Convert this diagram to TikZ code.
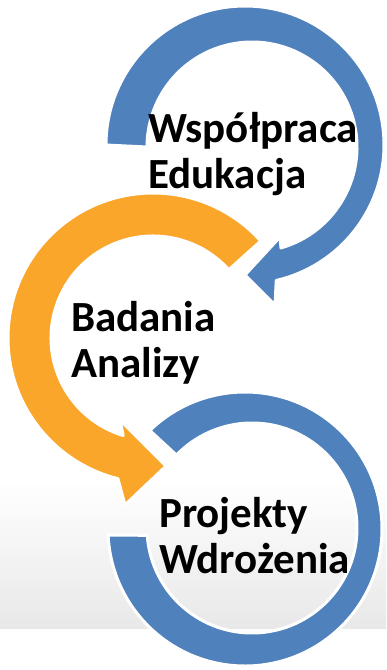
\documentclass[tikz,border=0pt]{standalone}
\usepackage{fontspec}
\setmainfont{Carlito}
\usetikzlibrary{positioning}
\definecolor{ringblue}{RGB}{79,129,189}
\definecolor{ringorange}{RGB}{249,166,43}

\begin{document}
\begin{tikzpicture}[x=1pt,y=-1pt,
    ringband/.style={draw=white,line width=3pt,line join=round},
    ringtext/.style={anchor=base west,inner sep=0pt,align=left,
      font=\fontsize{43}{45.5}\selectfont\bfseries}]
  \useasboundingbox (0,0) rectangle (386,670);
  \shade[top color=white,bottom color=black!9] (0,480) rectangle (386,628);
  % middle arrow
  \filldraw[ringband,fill=ringorange] ([shift={(153,338)}]318:145)
    arc[start angle=318,end angle=104,radius=145]
    -- (125,505) -- (166,466) -- (120,420)
    -- ([shift={(153,338)}]107:102)
    arc[start angle=107,end angle=318,radius=102] -- cycle;
  % bottom ring
  \filldraw[ringband,fill=ringblue] ([shift={(245,529)}]226:137)
    arc[start angle=226,end angle=537.5,radius=137]
    -- ([shift={(252,528)}]536:105)
    arc[start angle=536,end angle=224,radius=105] -- cycle;
  % top arrow
  \filldraw[ringband,fill=ringblue] ([shift={(245,145)}]180:139)
    arc[start angle=180,end angle=437,radius=139]
    -- (275,305) -- (245,275) -- (280,237)
    -- ([shift={(252,147)}]434:105)
    arc[start angle=434,end angle=180,radius=105] -- cycle;
  \node[ringtext] (wsp) at (148,188) {Współpraca\\Edukacja};
  \node[ringtext] (bad) at (71,377) {Badania\\Analizy};
  \node[ringtext] (proj) at (159,573) {Projekty\\Wdrożenia};
\end{tikzpicture}
\end{document}
